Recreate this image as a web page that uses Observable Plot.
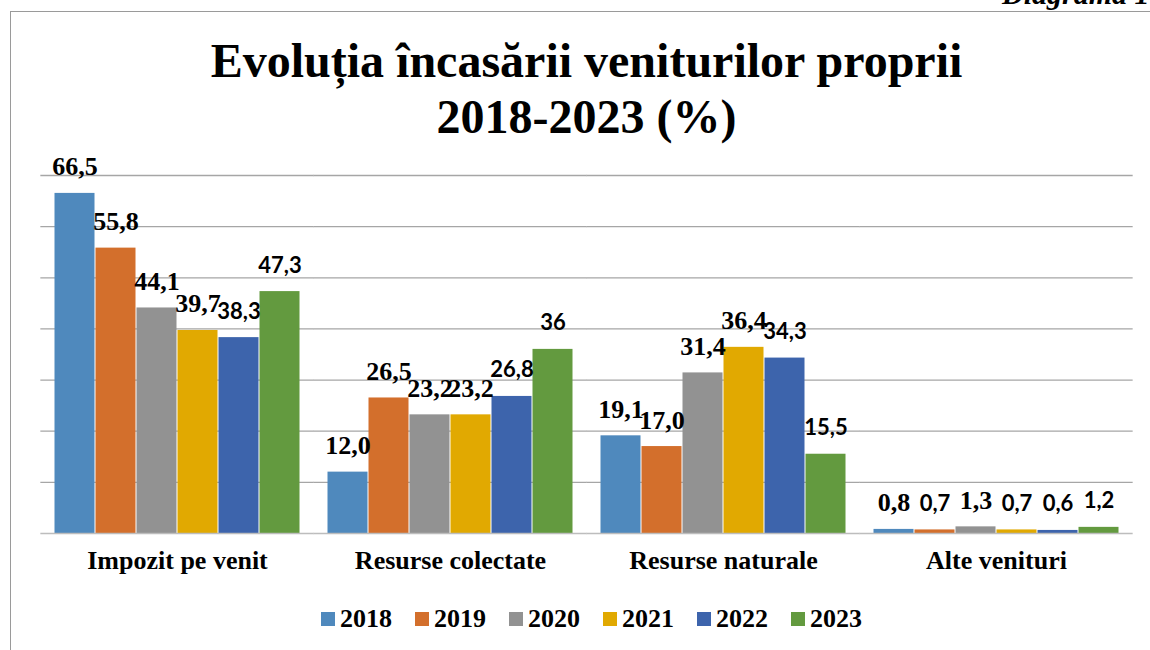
<!DOCTYPE html>
<html>
<head>
<meta charset="utf-8">
<script src="https://cdn.jsdelivr.net/npm/d3@7"></script>
<script src="https://cdn.jsdelivr.net/npm/@observablehq/plot@0.6"></script>
<style>
  html, body { margin: 0; padding: 0; background: #fff; overflow: hidden; }
  #wrap { position: relative; width: 1150px; height: 650px; overflow: hidden; }
  #frame { position: absolute; left: 10px; top: 11px; width: 1150px; height: 650px;
           border-left: 1px solid #9a9a9a; border-top: 1px solid #9a9a9a; box-sizing: border-box; }
  #diag { position: absolute; left: 1002px; top: -21px; font: italic bold 30px "Liberation Serif"; line-height: 30px; white-space: nowrap; }
  #title { position: absolute; left: 86.5px; top: 33px; width: 1000px; text-align: center;
           font: bold 48px "Liberation Serif"; line-height: 56px; color: #000; }
  #chart { position: absolute; left: 0; top: 0; }
  #legend { position: absolute; left: 321px; top: 609px; height: 20px; display: flex; align-items: center;
            font: bold 26px "Liberation Serif"; line-height: 20px; color: #000; }
  .item { display: flex; align-items: center; margin-right: 23px; }
  .sw { width: 14px; height: 14px; margin-right: 5px; }
</style>
</head>
<body>
<div id="wrap">
  <div id="frame"></div>
  <div id="diag">Diagrama 1</div>
  <div id="title">Evoluția încasării veniturilor proprii<br>2018-2023 (%)</div>
  <div id="chart"></div>
  <div id="legend"></div>
</div>
<script>
// ---- data ----
const categories = ["Impozit pe venit", "Resurse colectate", "Resurse naturale", "Alte venituri"];
const years = ["2018", "2019", "2020", "2021", "2022", "2023"];
const v2018 = [66.5, 12.0, 19.1, 0.8];
const v2019 = [55.8, 26.5, 17.0, 0.7];
const v2020 = [44.1, 23.2, 31.4, 1.3];
const v2021 = [39.7, 23.2, 36.4, 0.7];
const v2022 = [38.3, 26.8, 34.3, 0.6];
const v2023 = [47.3, 36, 15.5, 1.2];
const l2018 = ["66,5", "12,0", "19,1", "0,8"];
const l2019 = ["55,8", "26,5", "17,0", "0,7"];
const l2020 = ["44,1", "23,2", "31,4", "1,3"];
const l2021 = ["39,7", "23,2", "36,4", "0,7"];
const l2022 = ["38,3", "26,8", "34,3", "0,6"];
const l2023 = ["47,3", "36", "15,5", "1,2"];
const gridValues = [10, 20, 30, 40, 50, 60, 70];

// ---- styles ----
const colors = ["#4f89bd", "#d36f2c", "#929292", "#e1a901", "#3d64ac", "#639a3f"];
// labels drawn in a sans font in the original (year|category)
const sansKeys = new Set([
  "2022|Impozit pe venit", "2022|Resurse colectate", "2022|Resurse naturale", "2022|Alte venituri",
  "2023|Impozit pe venit", "2023|Resurse colectate", "2023|Resurse naturale", "2023|Alte venituri",
  "2019|Alte venituri", "2021|Alte venituri"
]);

const series = [v2018, v2019, v2020, v2021, v2022, v2023];
const labels = [l2018, l2019, l2020, l2021, l2022, l2023];
const data = years.flatMap((yr, i) => categories.map((c, j) => ({
  category: c, year: yr, value: series[i][j], label: labels[i][j], sans: sansKeys.has(yr + "|" + c)
})));

const W = 1150, H = 650, mL = 40, mR = 17, mT = 175, mB = 117;
const pIn = 0.1, pOut = 0.05;
const step = (W - mL - mR) / (categories.length - pIn + 2 * pOut);
const ext = -step * pOut; // extend rules across facet gaps

const chart = Plot.plot({
  width: W, height: H,
  marginLeft: mL, marginRight: mR, marginTop: mT, marginBottom: mB,
  style: { fontFamily: "Liberation Serif", fontSize: "26px", fontWeight: "bold", color: "#000", background: "transparent", overflow: "visible" },
  fx: { domain: categories, paddingInner: pIn, paddingOuter: pOut, label: null, axis: "bottom", tickSize: 0, tickPadding: 17.5 },
  x: { domain: years, axis: null, padding: 0 },
  y: { domain: [0, 70], axis: null },
  color: { domain: years, range: colors },
  marks: [
    Plot.ruleY(gridValues, { stroke: "#a6a6a6", strokeWidth: 1.3, insetLeft: ext, insetRight: ext }),
    Plot.barY(data, { fx: "category", x: "year", y: "value", fill: "year", insetLeft: 0.5, insetRight: 0.5 }),
    Plot.ruleY([0], { stroke: "#bdbdbd", strokeWidth: 1.5, insetLeft: ext, insetRight: ext }),
    Plot.text(data.filter(d => !d.sans), { fx: "category", x: "year", y: "value", text: "label", dy: -18, lineAnchor: "bottom",
      fontSize: 26, fontWeight: "bold", fontFamily: "Liberation Serif", fill: "#000" }),
    Plot.text(data.filter(d => d.sans), { fx: "category", x: "year", y: "value", text: "label", dy: -19, lineAnchor: "bottom",
      fontSize: 22, fontWeight: "bold", fontFamily: "Lato", fill: "#000" })
  ]
});
document.getElementById("chart").appendChild(chart);

// legend
const leg = document.getElementById("legend");
years.forEach((yr, i) => {
  const it = document.createElement("div");
  it.className = "item";
  const sw = document.createElement("span");
  sw.className = "sw";
  sw.style.background = colors[i];
  const t = document.createElement("span");
  t.textContent = yr;
  it.appendChild(sw); it.appendChild(t);
  leg.appendChild(it);
});
</script>
</body>
</html>
